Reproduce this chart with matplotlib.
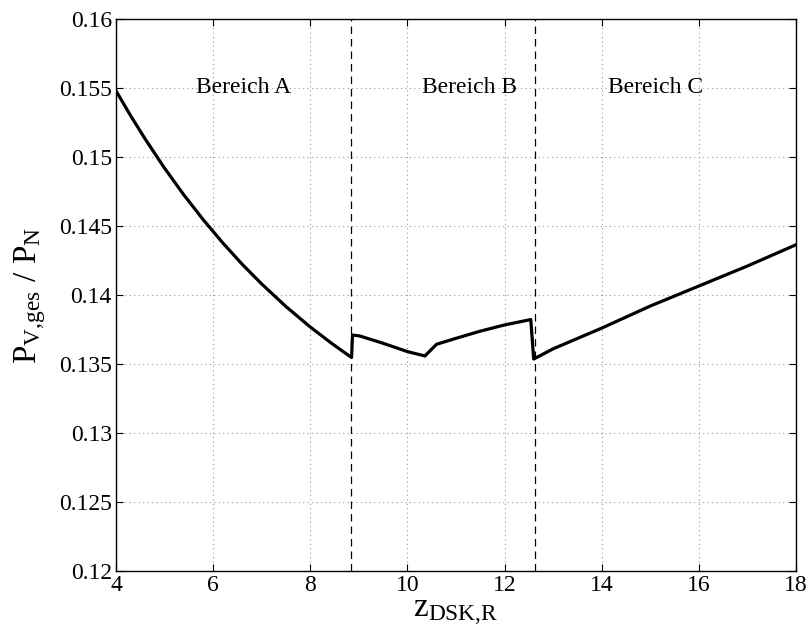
import numpy as np
import matplotlib
matplotlib.use('Agg')
import matplotlib.pyplot as plt

plt.rcParams['font.family'] = 'Liberation Serif'
plt.rcParams['mathtext.fontset'] = 'custom'
plt.rcParams['mathtext.rm'] = 'Liberation Serif'
plt.rcParams['mathtext.it'] = 'Liberation Serif'

# Bereich A
z_a = [4.0, 4.3, 4.6, 5.0, 5.4, 5.8, 6.2, 6.6, 7.0, 7.5, 8.0, 8.45, 8.85]
p_a = [0.1548, 0.1530, 0.15131, 0.14919, 0.14724, 0.14544, 0.14377, 0.14222, 0.1408,
       0.13916, 0.13768, 0.13647, 0.13547]
# Bereich B
z_b = [8.85, 8.87, 9.02, 9.5, 10.0, 10.36, 10.6, 11.0, 11.5, 12.0, 12.54, 12.6]
p_b = [0.13547, 0.1371, 0.13703, 0.1365, 0.1359, 0.13558, 0.13643, 0.13686, 0.13738,
       0.13783, 0.13822, 0.13536]
# Bereich C
z_c = [12.6, 13.0, 14.0, 15.0, 16.0, 17.0, 18.0]
p_c = [0.13536, 0.1361, 0.1376, 0.1392, 0.14065, 0.1421, 0.14364]

grenzen = [8.845, 12.625]
bereiche = ['Bereich A', 'Bereich B', 'Bereich C']
text_x = [6.62, 11.28, 15.11]
text_y = 0.155

z = np.concatenate([z_a, z_b[1:], z_c[1:]])
p = np.concatenate([p_a, p_b[1:], p_c[1:]])

fig = plt.figure(figsize=(8.11, 6.39), dpi=100)
ax = fig.add_axes([0.143, 0.1064, 0.8385, 0.8639])

ax.plot(z, p, color='k', lw=2.3, zorder=3)
for g in grenzen:
    ax.axvline(g, color='k', ls=(0, (6, 4)), lw=0.9, zorder=2)
for t, tx in zip(bereiche, text_x):
    ax.text(tx, text_y, t, ha='center', va='center', fontsize=17)

ax.set_xlim(4, 18)
ax.set_ylim(0.12, 0.16)
ax.set_xticks(np.arange(4, 19, 2))
ax.set_yticks(np.arange(0.12, 0.1601, 0.005))
ax.set_yticklabels(['0.12', '0.125', '0.13', '0.135', '0.14', '0.145', '0.15', '0.155', '0.16'])
ax.grid(True, color='#999999', ls=(0, (1, 3)), lw=0.8)
ax.tick_params(direction='in', top=True, right=True, labelsize=17, length=5, pad=3)
for s in ax.spines.values():
    s.set_linewidth(1.0)

ax.set_xlabel(r'$\mathrm{z_{DSK{,}R}}$', fontsize=24, labelpad=1)
ax.set_ylabel(r'$\mathrm{P_{V{,}ges}\ /\ P_N}$', fontsize=24, labelpad=8)

fig.savefig('out.png', dpi=100)
